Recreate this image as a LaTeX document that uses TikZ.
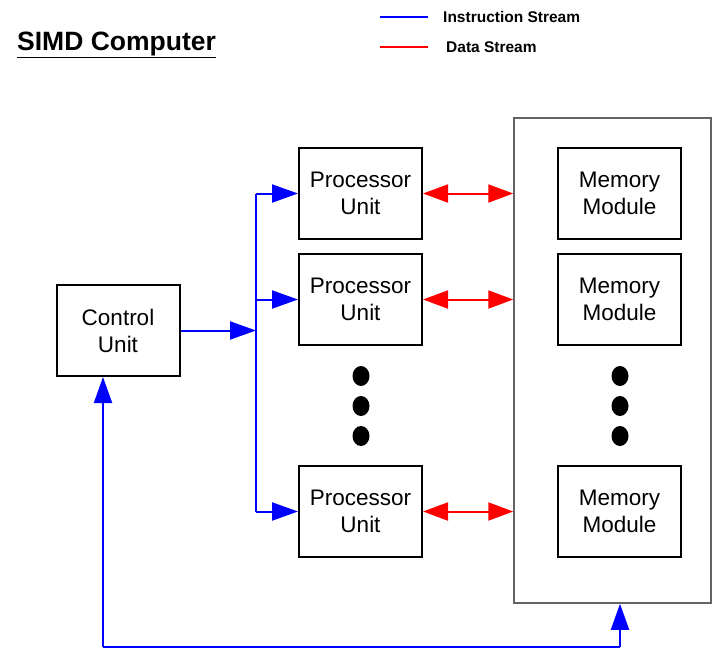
\documentclass[tikz,border=0pt]{standalone}
\usepackage{fontspec}
\setmainfont{Liberation Sans}
\usetikzlibrary{arrows.meta,shapes.geometric}
\begin{document}
\begin{tikzpicture}[x=1pt,y=-1pt,
  box/.style={draw=black,line width=2pt,minimum width=123pt,minimum height=91pt,inner sep=0pt,align=center,font=\fontsize{22.5}{27}\selectfont},
  bl/.style={draw={rgb,255:red,0;green,0;blue,255},line width=2pt},
  rd/.style={draw={rgb,255:red,255;green,0;blue,0},line width=2pt},
  barr/.style={bl,-{Triangle[length=26pt,width=18pt]}},
  rarr/.style={rd,{Triangle[length=25pt,width=18pt]}-{Triangle[length=25pt,width=18pt]}},
  dotc/.style={fill=black,ellipse,minimum width=17pt,minimum height=20pt,inner sep=0pt},
  legtxt/.style={anchor=west,font=\bfseries\fontsize{15.5}{18}\selectfont}
]
\useasboundingbox (0,0) rectangle (714,648);
% title
\node[anchor=west,font=\bfseries\fontsize{26.5}{30}\selectfont,inner sep=0pt] (title) at (17,45) {\underline{SIMD Computer}};
% legend
\coordinate (l1a) at (380,17); \coordinate (l1b) at (428,17);
\coordinate (l2a) at (380,47); \coordinate (l2b) at (428,47);
\draw[bl] (l1a) -- (l1b);
\draw[rd] (l2a) -- (l2b);
\node[legtxt,inner sep=0pt] (leg1) at (443,17) {Instruction Stream};
\node[legtxt,inner sep=0pt] (leg2) at (446,47) {Data Stream};
% memory outer
\node[draw={rgb,255:red,100;green,100;blue,100},line width=1.5pt,minimum width=197pt,minimum height=485pt,inner sep=0pt] (mem) at (612.5,360.5) {};
% boxes
\node[box] (cu) at (118,330.5) {Control\\Unit};
\node[box] (pu1) at (360.5,193.5) {Processor\\Unit};
\node[box] (pu2) at (360.5,299.5) {Processor\\Unit};
\node[box] (pu3) at (360.5,511.5) {Processor\\Unit};
\node[box] (mm1) at (619.5,193.5) {Memory\\Module};
\node[box] (mm2) at (619.5,299.5) {Memory\\Module};
\node[box] (mm3) at (619.5,511.5) {Memory\\Module};
% dots
\foreach \y/\n in {376/a,406/b,436/c}{
  \node[dotc] (pd\n) at (361,\y) {};
  \node[dotc] (md\n) at (620,\y) {};
}
% bus
\coordinate (bus) at (256,330.5);
\draw[barr] (cu.east) -- (bus);
\draw[bl] (bus |- pu1.west) -- (bus |- pu3.west);
\draw[barr] (bus |- pu1.west) -- (pu1.west);
\draw[barr] (bus |- pu2.west) -- (pu2.west);
\draw[barr] (bus |- pu3.west) -- (pu3.west);
% data arrows
\draw[rarr] (pu1.east) -- (pu1.east -| mem.west);
\draw[rarr] (pu2.east) -- (pu2.east -| mem.west);
\draw[rarr] (pu3.east) -- (pu3.east -| mem.west);
% feedback
\coordinate (fbl) at (103,646.5);
\coordinate (fbr) at (620,646.5);
\draw[bl] (fbl) -- (fbr);
\draw[barr] (fbl) -- (fbl |- cu.south);
\draw[barr] (fbr) -- (fbr |- mem.south);
\end{tikzpicture}
\end{document}
